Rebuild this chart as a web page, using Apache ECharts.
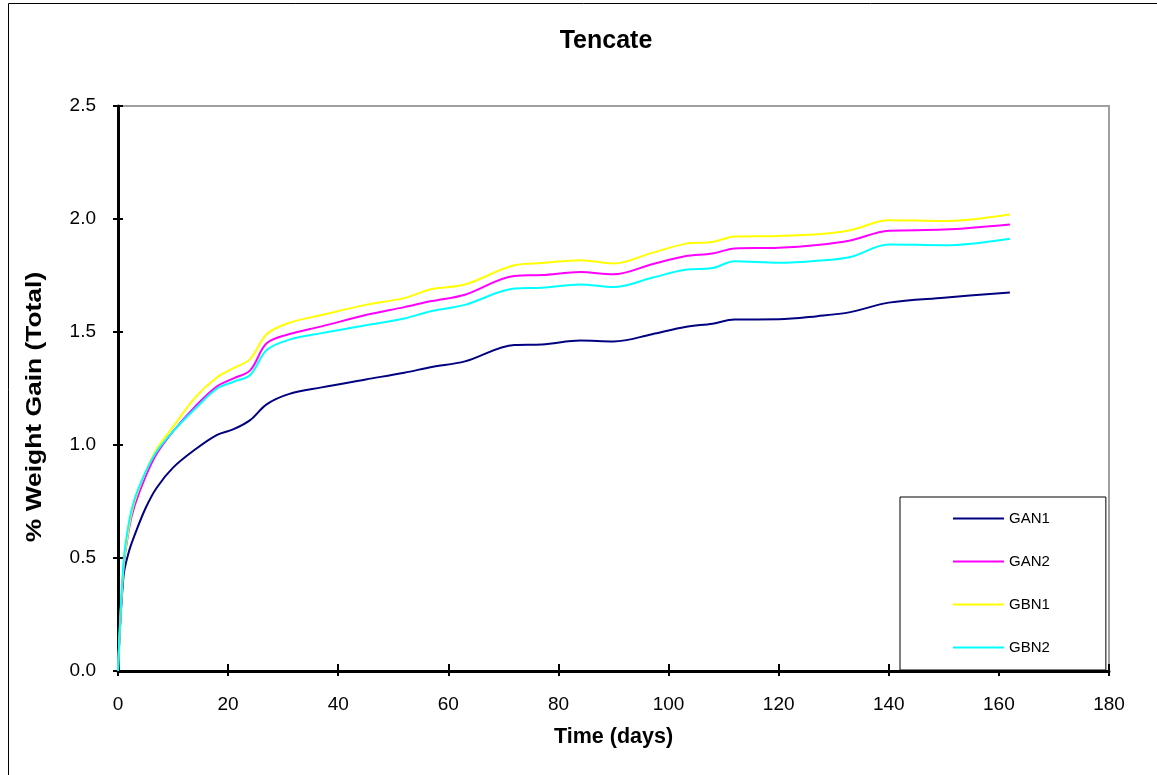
<!DOCTYPE html>
<html>
<head>
<meta charset="utf-8">
<script src="https://cdn.jsdelivr.net/npm/echarts@6/dist/echarts.min.js"></script>
<style>
html,body{margin:0;padding:0;background:#fff;}
#c{width:1157px;height:775px;}
</style>
</head>
<body>
<div id="c"></div>
<script>
var days = [0, 1, 2, 3, 5, 7, 10, 14, 18, 21, 24, 27, 31, 37, 45, 52, 57, 63, 72, 77, 84, 90, 97, 103, 108, 112, 120, 127, 133, 140, 150, 162];
var GAN1 = [0, 0.42, 0.53, 0.60, 0.72, 0.81, 0.90, 0.98, 1.045, 1.07, 1.11, 1.18, 1.225, 1.255, 1.29, 1.32, 1.345, 1.37, 1.443, 1.445, 1.462, 1.458, 1.49, 1.522, 1.537, 1.555, 1.556, 1.57, 1.588, 1.63, 1.652, 1.675];
var GAN2 = [0, 0.45, 0.63, 0.73, 0.86, 0.96, 1.06, 1.17, 1.26, 1.295, 1.33, 1.45, 1.49, 1.525, 1.575, 1.61, 1.637, 1.665, 1.748, 1.752, 1.765, 1.755, 1.80, 1.835, 1.847, 1.87, 1.873, 1.885, 1.905, 1.948, 1.953, 1.976];
var GBN1 = [0, 0.46, 0.64, 0.75, 0.88, 0.98, 1.08, 1.21, 1.30, 1.34, 1.38, 1.49, 1.54, 1.575, 1.62, 1.65, 1.69, 1.71, 1.795, 1.805, 1.818, 1.803, 1.85, 1.89, 1.898, 1.923, 1.925, 1.932, 1.95, 1.995, 1.991, 2.02];
var GBN2 = [0, 0.48, 0.66, 0.76, 0.88, 0.97, 1.06, 1.16, 1.25, 1.28, 1.31, 1.42, 1.465, 1.495, 1.53, 1.56, 1.593, 1.62, 1.692, 1.696, 1.71, 1.699, 1.74, 1.775, 1.783, 1.813, 1.806, 1.815, 1.832, 1.887, 1.884, 1.913];
var seriesNames = ['GAN1', 'GAN2', 'GBN1', 'GBN2'];
var seriesData = [GAN1, GAN2, GBN1, GBN2];
var seriesColors = ['#000080', '#FF00FF', '#FFFF00', '#00FFFF'];
var titleText = 'Tencate';
var xName = 'Time (days)';
var yName = '% Weight Gain (Total)';

var FONT = '"Liberation Sans", Arial, sans-serif';
function pairs(arr){ return days.map(function(d,i){ return [d, arr[i]]; }); }

var chart = echarts.init(document.getElementById('c'), null, {renderer:'canvas'});
var series = seriesNames.map(function(n,i){
  return {
    name: n, type: 'line', data: pairs(seriesData[i]), smooth: 0.35,
    symbol: 'none', xAxisIndex: 0, yAxisIndex: 0,
    lineStyle: {color: seriesColors[i], width: 2},
    itemStyle: {color: seriesColors[i]},
    emphasis: {disabled: true}, animation: false
  };
});

var option = {
  animation: false,
  backgroundColor: '#fff',
  textStyle: {fontFamily: FONT},
  title: {
    text: titleText, left: 601, top: 24, textAlign: 'center',
    textStyle: {fontFamily: FONT, fontWeight: 'bold', fontSize: 25, color: '#000'}
  },
  grid: {left: 118, top: 106, right: 48, bottom: 104, show: true, borderColor: '#a0a0a0', borderWidth: 2, backgroundColor: '#fff'},
  legend: {
    data: seriesNames.map(function(n){ return {name: n, icon: 'rect'}; }),
    orient: 'vertical', left: 900, top: 497,
    itemWidth: 51, itemHeight: 2, itemGap: 28,
    padding: [14, 56, 15, 53],
    backgroundColor: '#fff', borderColor: '#000', borderWidth: 1,
    textStyle: {fontFamily: FONT, fontSize: 15, lineHeight: 15, color: '#000'},
    selectedMode: false
  },
  xAxis: [{
    type: 'value', min: 0, max: 180, interval: 20,
    name: xName, nameLocation: 'middle', nameGap: 55,
    nameTextStyle: {fontFamily: FONT, fontWeight: 'bold', fontSize: 21.5, color: '#000'},
    axisLine: {show: true, onZero: false, lineStyle: {color: '#000', width: 3}},
    axisTick: {show: true, inside: false, length: 5, lineStyle: {color: '#000', width: 2}},
    axisLabel: {fontFamily: FONT, fontSize: 19, color: '#000', margin: 24},
    splitLine: {show: false}
  }, {
    type: 'value', min: 0, max: 180, interval: 20, position: 'bottom',
    axisLine: {show: false},
    axisTick: {show: true, inside: true, length: 7, lineStyle: {color: '#000', width: 2}},
    axisLabel: {show: false}, splitLine: {show: false}
  }],
  yAxis: [{
    type: 'value', min: 0, max: 2.5, interval: 0.5,
    axisLine: {show: true, onZero: false, lineStyle: {color: '#000', width: 3}},
    axisTick: {show: true, inside: false, length: 5, lineStyle: {color: '#000', width: 2}},
    axisLabel: {fontFamily: FONT, fontSize: 19, color: '#000', margin: 22, formatter: function(v){ return v.toFixed(1); }},
    splitLine: {show: false}
  }, {
    type: 'value', min: 0, max: 2.5, interval: 0.5, position: 'left',
    axisLine: {show: false},
    axisTick: {show: true, inside: true, length: 5, lineStyle: {color: '#000', width: 2}},
    axisLabel: {show: false}, splitLine: {show: false}
  }],
  graphic: [{
    type: 'rect', silent: true, z: -1,
    shape: {x: 8.5, y: 3.5, width: 1160, height: 790},
    style: {fill: 'none', stroke: '#000', lineWidth: 1}
  }, {
    type: 'text', silent: true,
    x: 35, y: 407, rotation: Math.PI / 2, scaleX: 1.2,
    style: {text: yName, fontFamily: FONT, fontWeight: 'bold', fontSize: 22, fill: '#000', align: 'center', verticalAlign: 'middle'}
  }],
  series: series
};
chart.setOption(option);
</script>
</body>
</html>
